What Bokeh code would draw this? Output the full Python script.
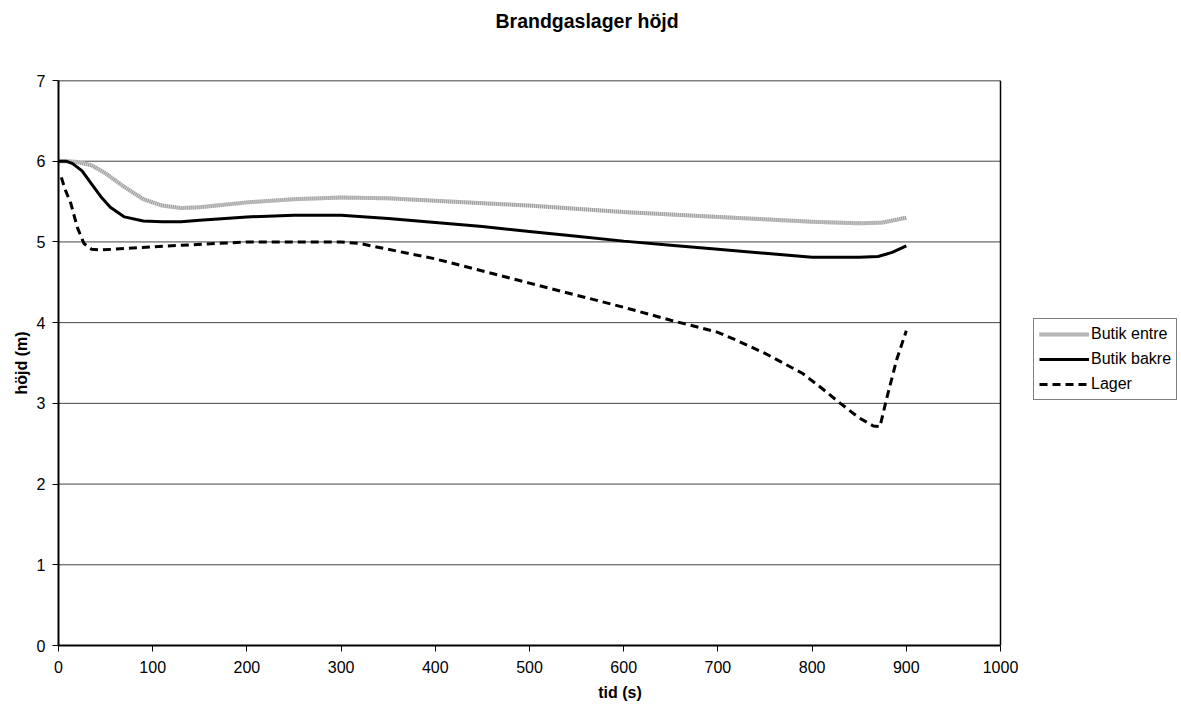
from bokeh.plotting import figure
from bokeh.models import Legend, LegendItem, FixedTicker, Range1d, Title
from bokeh.embed import file_html
from bokeh.resources import INLINE

# ---- data ----
x_entre = [0, 10, 20, 35, 50, 70, 90, 110, 130, 150, 200, 250, 300, 350, 400, 450, 500, 550, 600, 650, 700, 750, 800, 850, 875, 900]
y_entre = [6.0, 6.0, 5.99, 5.95, 5.85, 5.68, 5.53, 5.45, 5.42, 5.43, 5.49, 5.53, 5.55, 5.54, 5.51, 5.48, 5.45, 5.41, 5.37, 5.34, 5.31, 5.28, 5.25, 5.23, 5.24, 5.30]

x_bakre = [0, 8, 15, 25, 35, 45, 55, 70, 90, 110, 130, 150, 200, 250, 300, 350, 400, 450, 500, 550, 600, 650, 700, 750, 800, 850, 870, 885, 900]
y_bakre = [6.0, 6.0, 5.97, 5.88, 5.72, 5.56, 5.43, 5.31, 5.26, 5.25, 5.25, 5.27, 5.31, 5.33, 5.33, 5.29, 5.24, 5.19, 5.13, 5.07, 5.01, 4.96, 4.91, 4.86, 4.81, 4.81, 4.82, 4.87, 4.95]

x_lager = [3, 7, 13, 20, 27, 35, 45, 100, 200, 300, 320, 400, 500, 600, 650, 700, 720, 750, 790, 810, 830, 850, 865, 872, 880, 890, 900]
y_lager = [5.8, 5.65, 5.48, 5.18, 4.98, 4.91, 4.90, 4.94, 5.0, 5.0, 4.98, 4.79, 4.49, 4.19, 4.03, 3.88, 3.78, 3.62, 3.37, 3.19, 3.0, 2.82, 2.72, 2.71, 3.1, 3.55, 3.9]

series_names = ["Butik entre", "Butik bakre", "Lager"]
x_ticks = [0, 100, 200, 300, 400, 500, 600, 700, 800, 900, 1000]
y_ticks = [0, 1, 2, 3, 4, 5, 6, 7]
X_MAX = 1000
Y_MAX = 7

FONT = "Liberation Sans"

# frame spans 58..1181 px; the axis itself ends at x=1000 (px 1000)
x_view_end = X_MAX * (1181 - 58) / (1000 - 58)

p = figure(width=1181, height=705, output_backend="svg", toolbar_location=None,
           x_range=Range1d(0, x_view_end), y_range=Range1d(0, Y_MAX),
           min_border_left=58, min_border_right=0, min_border_top=80, min_border_bottom=60)

p.title.text = "Brandgaslager höjd"
p.title.text_font = FONT
p.title.text_font_size = "19.5px"
p.title.text_font_style = "bold"
p.title.text_color = "black"
p.title.align = "left"
p.title.offset = 437
p.title.standoff = 14

spacer = Title(text=" ", text_font_size="1px", standoff=39)
p.add_layout(spacer, "above")

# grid / frame (drawn only over the 0..1000 area)
p.xgrid.visible = False
p.ygrid.visible = False
p.outline_line_color = None
p.background_fill_color = "white"
p.border_fill_color = "white"
grid_y = y_ticks[1:-1]
p.segment(x0=[0] * len(grid_y), x1=[X_MAX] * len(grid_y), y0=grid_y, y1=grid_y,
          line_color="#444444", line_width=1)
p.segment(x0=[0, X_MAX], x1=[X_MAX, X_MAX], y0=[Y_MAX, 0], y1=[Y_MAX, Y_MAX],
          line_color="black", line_width=1.5)

# axes
p.xaxis.ticker = FixedTicker(ticks=x_ticks)
p.yaxis.ticker = FixedTicker(ticks=y_ticks)
p.xaxis.bounds = (0, X_MAX)
for ax in (p.xaxis[0], p.yaxis[0]):
    ax.axis_line_color = "black"
    ax.axis_line_width = 2
    ax.major_tick_line_color = "black"
    ax.major_tick_in = 0
    ax.major_tick_out = 6
    ax.minor_tick_line_color = None
    ax.major_label_text_font = FONT
    ax.major_label_text_font_size = "16px"
    ax.major_label_text_color = "black"
    ax.axis_label_text_font = FONT
    ax.axis_label_text_font_size = "16px"
    ax.axis_label_text_font_style = "bold"
    ax.axis_label_text_color = "black"
p.xaxis.axis_label = "tid (s)"
p.yaxis.axis_label = "höjd (m)"
p.xaxis.major_label_standoff = 9
p.xaxis.axis_label_standoff = 8
p.yaxis.major_label_standoff = 7
p.yaxis.axis_label_standoff = 4

# series
r_entre_bg = p.line(x_entre, y_entre, line_color="#d4d4d4", line_width=4)
r_entre_fg = p.line(x_entre, y_entre, line_color="#9a9a9a", line_width=4, line_dash="1 1")
r_bakre = p.line(x_bakre, y_bakre, line_color="black", line_width=3)
r_lager = p.line(x_lager, y_lager, line_color="black", line_width=3, line_dash="8 5")

legend = Legend(items=[
    LegendItem(label=series_names[0], renderers=[r_entre_bg, r_entre_fg]),
    LegendItem(label=series_names[1], renderers=[r_bakre]),
    LegendItem(label=series_names[2], renderers=[r_lager]),
], location=(975, 245))
legend.label_text_font = FONT
legend.label_text_font_size = "16px"
legend.label_text_color = "black"
legend.glyph_width = 50
legend.glyph_height = 20
legend.label_standoff = 2
legend.spacing = 5
legend.padding = 5
legend.margin = 0
legend.border_line_color = "black"
legend.border_line_width = 1
legend.background_fill_alpha = 1
p.add_layout(legend)

open("out.html", "w").write(file_html(p, INLINE))
